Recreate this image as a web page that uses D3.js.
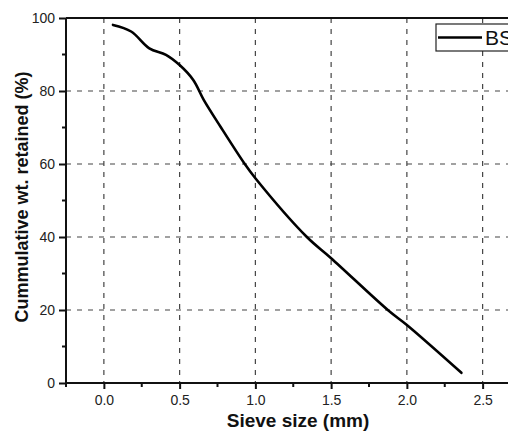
<!DOCTYPE html>
<html>
<head>
<meta charset="utf-8">
<script src="https://cdn.jsdelivr.net/npm/d3@7"></script>
<style>
  html, body { margin: 0; padding: 0; background: #fff; }
  svg { display: block; }
  text { font-family: "Liberation Sans", Arial, sans-serif; }
</style>
</head>
<body>
<svg id="chart" width="508" height="438"></svg>
<script>
// Data
const sieveSize = [0.06, 0.18, 0.30, 0.41, 0.50, 0.59, 0.66, 0.77, 0.93, 1.00, 1.34, 1.50, 1.88, 2.00, 2.36];
const cumRetained = [98.1, 96.3, 91.7, 89.9, 87.1, 83.0, 77.5, 70.2, 60.0, 56.1, 40.0, 34.2, 19.8, 15.9, 2.8];
const xTicks = [0.0, 0.5, 1.0, 1.5, 2.0, 2.5];
const xMinorTicks = [-0.25, 0.25, 0.75, 1.25, 1.75, 2.25, 2.75];
const yTicks = [0, 20, 40, 60, 80, 100];
const yMinorTicks = [10, 30, 50, 70, 90];
const seriesName = "BS";
const xTitle = "Sieve size (mm)";
const yTitle = "Cummulative wt. retained (%)";

(function () {
const svg = d3.select("#chart");
const pLeft = 66, pTop = 18, pBottom = 383;
const x = d3.scaleLinear().domain([-0.25, 3.0]).range([pLeft, pLeft + 3.25 * 151.5]);
const y = d3.scaleLinear().domain([0, 100]).range([pBottom, pTop]);
const pRight = x(3.0);

// grid
const grid = svg.append("g");
grid.selectAll("line.vx").data(xTicks).join("line")
  .attr("x1", d => x(d)).attr("x2", d => x(d))
  .attr("y1", pTop).attr("y2", pBottom)
  .attr("stroke", "#444").attr("stroke-width", 1.2).attr("stroke-dasharray", "5,6");
grid.selectAll("line.hy").data(yTicks.filter(d => d > 0 && d < 100)).join("line")
  .attr("x1", pLeft).attr("x2", pRight)
  .attr("y1", d => y(d)).attr("y2", d => y(d))
  .attr("stroke", "#444").attr("stroke-width", 1.2).attr("stroke-dasharray", "5,6");

// axes
const xAxis = d3.axisBottom(x).tickValues(xTicks).tickFormat(d3.format(".1f")).tickSize(6).tickPadding(6);
const yAxis = d3.axisLeft(y).tickValues(yTicks).tickFormat(d3.format("d")).tickSize(7).tickPadding(4);

const gx = svg.append("g").attr("transform", `translate(0,${pBottom})`).call(xAxis);
const gy = svg.append("g").attr("transform", `translate(${pLeft},0)`).call(yAxis);
[gx, gy].forEach(g => {
  g.select(".domain").attr("stroke", "#111").attr("stroke-width", 2);
  g.selectAll(".tick line").attr("stroke", "#111").attr("stroke-width", 2);
  g.selectAll(".tick text").attr("fill", "#222").style("font-size", "14px")
    .style("font-family", "'Liberation Sans', Arial, sans-serif");
});
gx.select(".domain").attr("d", `M${pLeft},0H${pRight}`);
gy.select(".domain").attr("d", `M0,${pBottom}V${pTop}`);

// minor ticks
svg.append("g").selectAll("line").data(xMinorTicks).join("line")
  .attr("x1", d => x(d)).attr("x2", d => x(d))
  .attr("y1", pBottom).attr("y2", pBottom + 4)
  .attr("stroke", "#111").attr("stroke-width", 2);
svg.append("g").selectAll("line").data(yMinorTicks).join("line")
  .attr("x1", pLeft - 4).attr("x2", pLeft)
  .attr("y1", d => y(d)).attr("y2", d => y(d))
  .attr("stroke", "#111").attr("stroke-width", 2);

// top frame
svg.append("line").attr("x1", pLeft).attr("x2", pRight).attr("y1", pTop).attr("y2", pTop)
  .attr("stroke", "#111").attr("stroke-width", 2);

// curve
const line = d3.line().x((d, i) => x(sieveSize[i])).y(d => y(d)).curve(d3.curveCatmullRom.alpha(0.5));
svg.append("path").datum(cumRetained).attr("d", line)
  .attr("fill", "none").attr("stroke", "#000").attr("stroke-width", 2.6)
  .attr("stroke-linejoin", "round").attr("stroke-linecap", "round");

// legend
const lg = svg.append("g");
lg.append("rect").attr("x", 436).attr("y", 24).attr("width", 120).attr("height", 27)
  .attr("fill", "#fff").attr("stroke", "#222").attr("stroke-width", 1.2);
lg.append("line").attr("x1", 438).attr("x2", 482).attr("y1", 37.5).attr("y2", 37.5)
  .attr("stroke", "#000").attr("stroke-width", 2.6);
lg.append("text").attr("x", 485).attr("y", 45).text(seriesName)
  .style("font-size", "21px").attr("fill", "#111");

// titles
svg.append("text").attr("x", 298).attr("y", 427).attr("text-anchor", "middle")
  .style("font-size", "19px").style("font-weight", "bold").attr("fill", "#111").text(xTitle);
svg.append("text").attr("transform", `translate(28,197) rotate(-90)`)
  .attr("text-anchor", "middle")
  .style("font-size", "18px").style("font-weight", "bold").attr("fill", "#111").text(yTitle);
})();
</script>
</body>
</html>
